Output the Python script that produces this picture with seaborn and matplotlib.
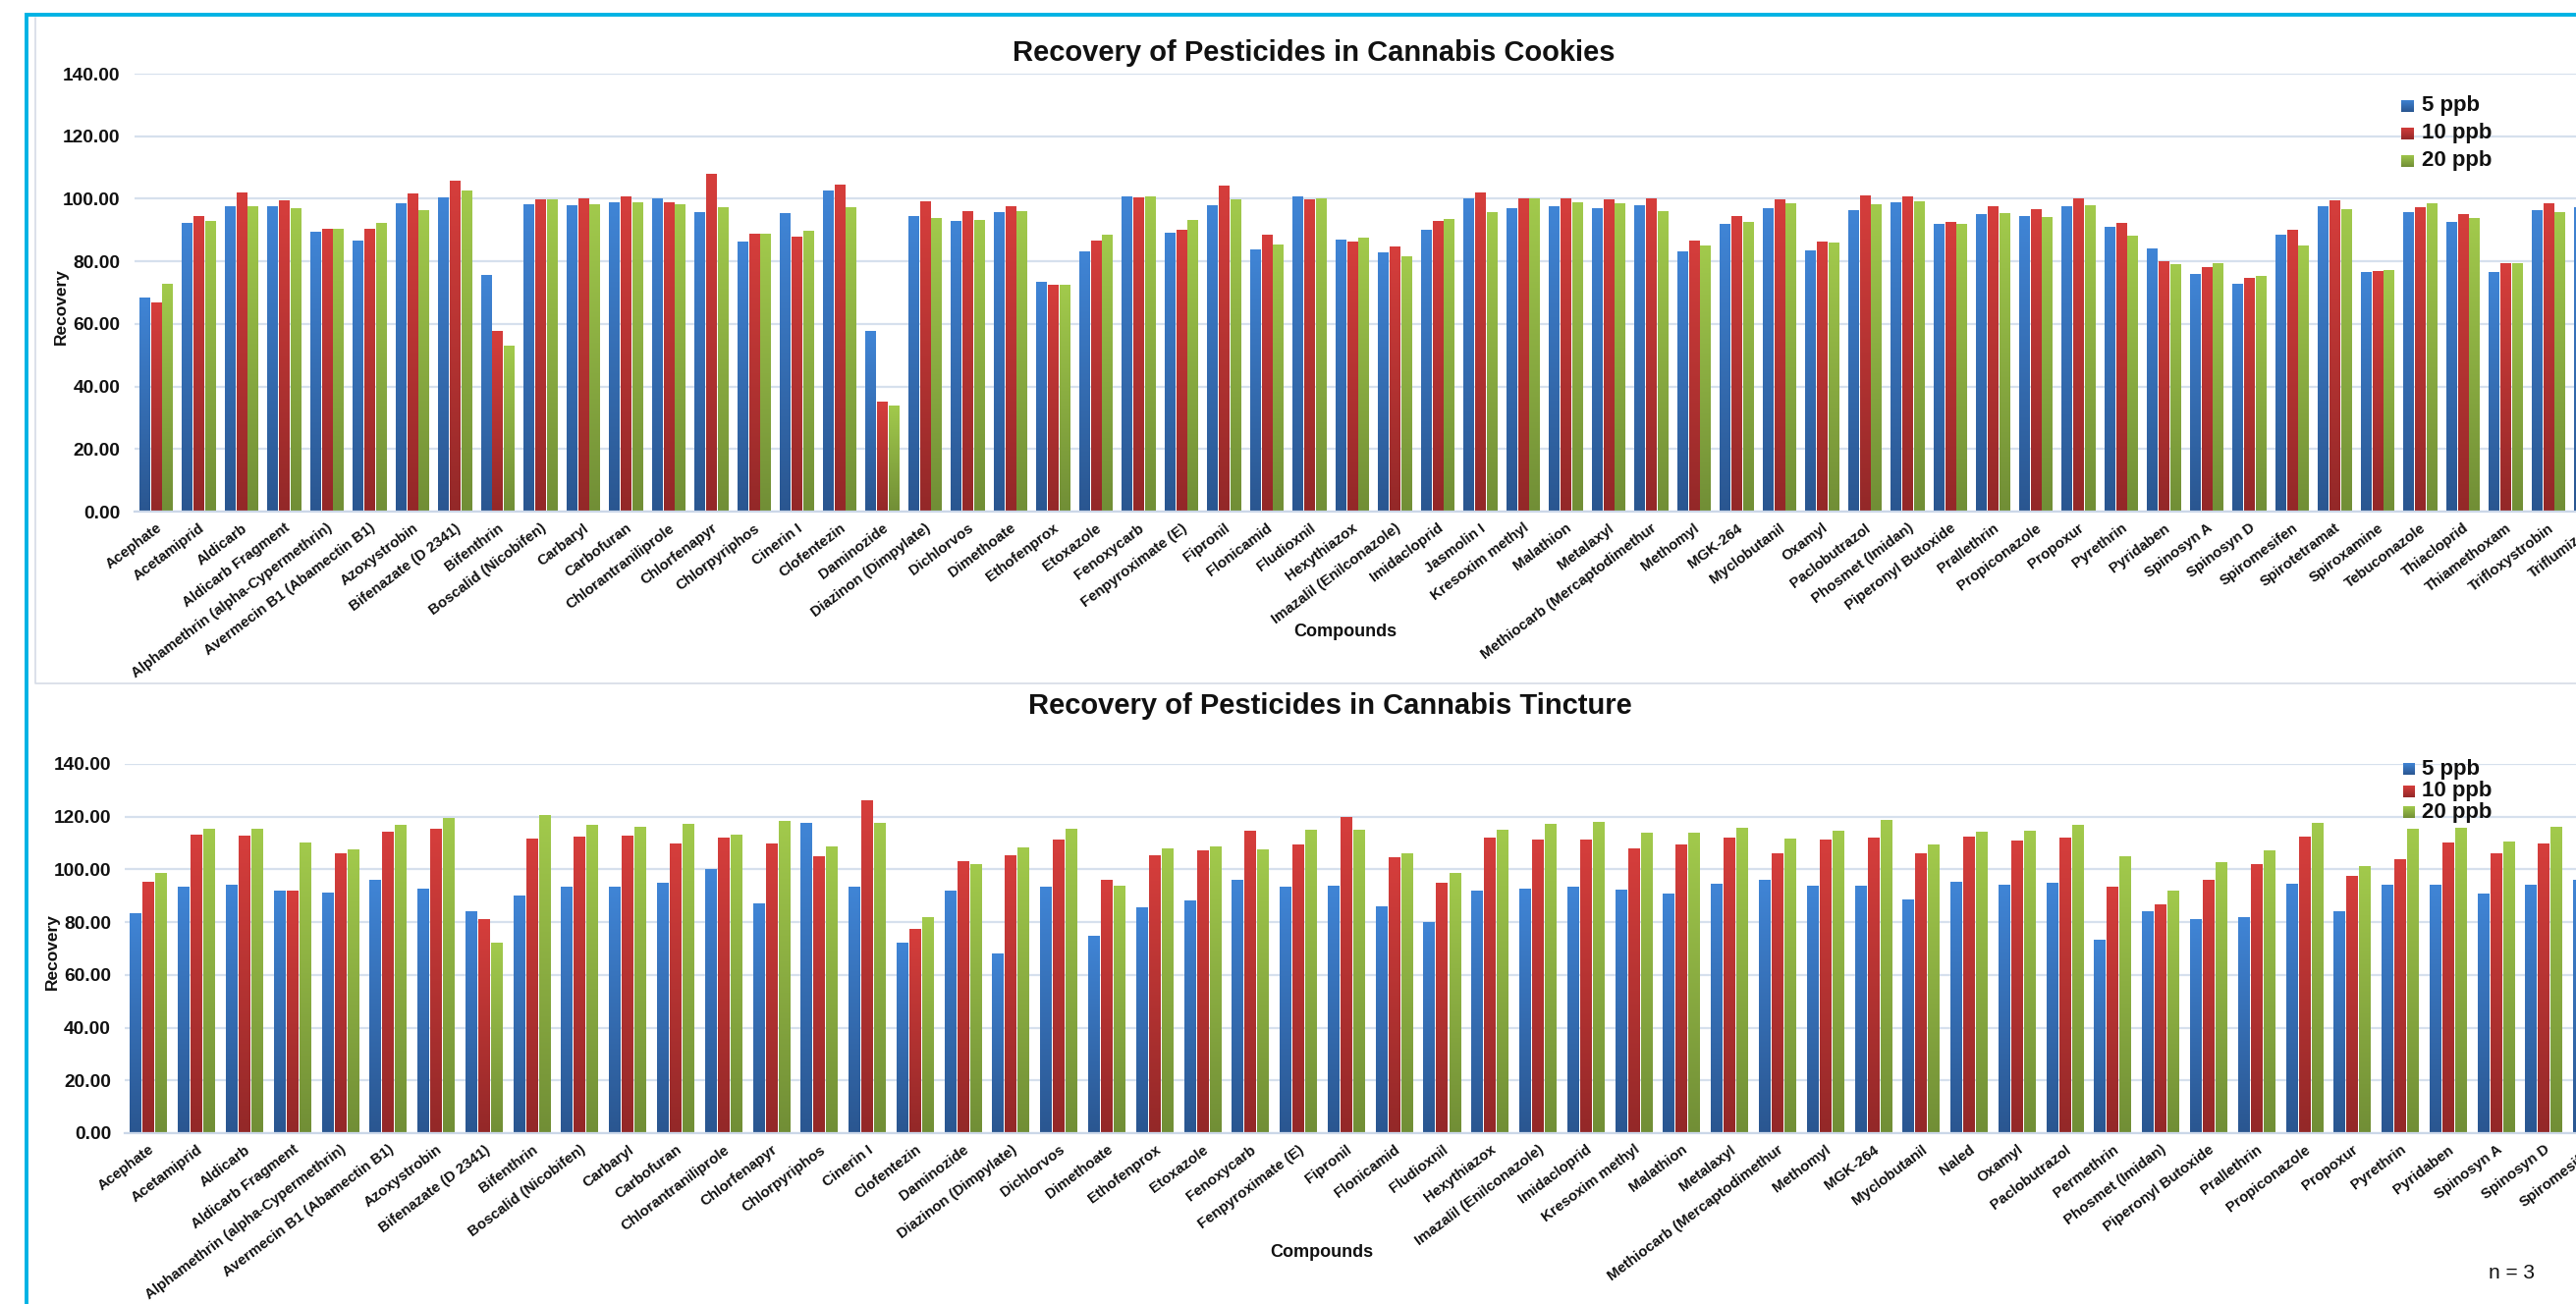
import numpy as np
import pandas as pd
import matplotlib
matplotlib.use("Agg")
import matplotlib.pyplot as plt
import seaborn as sns
from matplotlib.colors import LinearSegmentedColormap
from matplotlib.lines import Line2D

# ---------------------------------------------------------------- data
levels = ["5 ppb", "10 ppb", "20 ppb"]

cookie_compounds = [
    "Acephate", "Acetamiprid", "Aldicarb", "Aldicarb Fragment",
    "Alphamethrin (alpha-Cypermethrin)", "Avermecin B1 (Abamectin B1)",
    "Azoxystrobin", "Bifenazate (D 2341)", "Bifenthrin", "Boscalid (Nicobifen)",
    "Carbaryl", "Carbofuran", "Chlorantraniliprole", "Chlorfenapyr",
    "Chlorpyriphos", "Cinerin I", "Clofentezin", "Daminozide",
    "Diazinon (Dimpylate)", "Dichlorvos", "Dimethoate", "Ethofenprox",
    "Etoxazole", "Fenoxycarb", "Fenpyroximate (E)", "Fipronil", "Flonicamid",
    "Fludioxnil", "Hexythiazox", "Imazalil (Enilconazole)", "Imidacloprid",
    "Jasmolin I", "Kresoxim methyl", "Malathion", "Metalaxyl",
    "Methiocarb (Mercaptodimethur", "Methomyl", "MGK-264", "Myclobutanil",
    "Oxamyl", "Paclobutrazol", "Phosmet (Imidan)", "Piperonyl Butoxide",
    "Prallethrin", "Propiconazole", "Propoxur", "Pyrethrin", "Pyridaben",
    "Spinosyn A", "Spinosyn D", "Spiromesifen", "Spirotetramat", "Spiroxamine",
    "Tebuconazole", "Thiacloprid", "Thiamethoxam", "Trifloxystrobin",
    "Triflumizole",
]
cookie_5ppb = [
    68.3, 92.1, 97.4, 97.4, 89.3, 86.5, 98.5, 100.2, 75.5, 98.1,
    97.7, 98.7, 99.9, 95.6, 86.2, 95.2, 102.5, 57.5, 94.3, 92.8,
    95.6, 73.3, 83.0, 100.5, 89.0, 97.7, 83.6, 100.5, 86.8, 82.7,
    89.9, 99.9, 96.8, 97.4, 96.8, 97.7, 83.0, 91.8, 96.8, 83.4,
    96.2, 98.7, 91.8, 94.9, 94.3, 97.4, 90.8, 83.9, 75.8, 72.6,
    88.3, 97.4, 76.4, 95.6, 92.4, 76.4, 96.2, 97.0,
]
cookie_10ppb = [
    66.7, 94.3, 101.9, 99.4, 90.2, 90.2, 101.5, 105.6, 57.5, 99.7,
    99.9, 100.5, 98.7, 107.8, 88.8, 87.7, 104.3, 35.0, 99.0, 95.9,
    97.4, 72.3, 86.5, 100.2, 89.9, 104.0, 88.3, 99.7, 86.2, 84.5,
    92.8, 101.8, 99.9, 99.9, 99.7, 99.9, 86.5, 94.3, 99.7, 86.2,
    100.9, 100.5, 92.4, 97.4, 96.5, 99.9, 92.1, 79.9, 77.9, 74.5,
    89.9, 99.4, 76.8, 97.1, 94.9, 79.2, 98.4, 99.0,
]
cookie_20ppb = [
    72.6, 92.8, 97.4, 96.8, 90.2, 92.1, 96.2, 102.5, 52.9, 99.7,
    98.1, 98.7, 98.1, 97.1, 88.8, 89.6, 97.1, 33.7, 93.6, 93.1,
    95.9, 72.3, 88.3, 100.5, 93.1, 99.7, 85.2, 99.9, 87.4, 81.4,
    93.3, 95.6, 99.9, 98.7, 98.4, 95.9, 84.9, 92.4, 98.4, 85.8,
    98.1, 99.0, 91.8, 95.2, 93.9, 97.7, 88.0, 78.9, 79.2, 75.1,
    84.9, 96.5, 77.0, 98.4, 93.6, 79.2, 95.6, 97.0,
]

tincture_compounds = [
    "Acephate", "Acetamiprid", "Aldicarb", "Aldicarb Fragment",
    "Alphamethrin (alpha-Cypermethrin)", "Avermecin B1 (Abamectin B1)",
    "Azoxystrobin", "Bifenazate (D 2341)", "Bifenthrin", "Boscalid (Nicobifen)",
    "Carbaryl", "Carbofuran", "Chlorantraniliprole", "Chlorfenapyr",
    "Chlorpyriphos", "Cinerin I", "Clofentezin", "Daminozide",
    "Diazinon (Dimpylate)", "Dichlorvos", "Dimethoate", "Ethofenprox",
    "Etoxazole", "Fenoxycarb", "Fenpyroximate (E)", "Fipronil", "Flonicamid",
    "Fludioxnil", "Hexythiazox", "Imazalil (Enilconazole)", "Imidacloprid",
    "Kresoxim methyl", "Malathion", "Metalaxyl", "Methiocarb (Mercaptodimethur",
    "Methomyl", "MGK-264", "Myclobutanil", "Naled", "Oxamyl", "Paclobutrazol",
    "Permethrin", "Phosmet (Imidan)", "Piperonyl Butoxide", "Prallethrin",
    "Propiconazole", "Propoxur", "Pyrethrin", "Pyridaben", "Spinosyn A",
    "Spinosyn D", "Spiromesifen",
]
tincture_5ppb = [
    83.4, 93.4, 94.2, 91.9, 91.2, 95.7, 92.7, 83.8, 90.1, 93.4,
    93.4, 94.9, 100.1, 87.1, 117.6, 93.4, 71.9, 91.9, 67.8, 93.1,
    74.8, 85.3, 87.9, 95.7, 93.1, 93.8, 86.0, 80.0, 91.6, 92.7,
    93.4, 92.3, 90.8, 94.5, 96.0, 93.8, 93.8, 88.6, 95.3, 94.2,
    94.9, 73.0, 83.8, 80.8, 81.9, 94.5, 84.1, 94.2, 94.2, 90.5,
    94.2, 96.0,
]
tincture_10ppb = [
    95.2, 113.1, 112.8, 91.9, 106.1, 114.2, 115.4, 80.8, 111.6, 112.4,
    112.8, 109.8, 112.0, 109.8, 105.0, 126.1, 77.4, 103.1, 105.3, 111.3,
    96.0, 105.3, 107.2, 114.6, 109.4, 119.8, 104.6, 94.9, 112.0, 111.3,
    111.3, 107.9, 109.4, 112.0, 106.1, 111.3, 112.0, 106.1, 112.4, 110.9,
    112.0, 93.1, 86.4, 96.0, 102.0, 112.4, 97.5, 103.8, 110.2, 106.1,
    109.8, 110.0,
]
tincture_20ppb = [
    98.6, 115.4, 115.4, 110.2, 107.6, 116.9, 119.5, 72.2, 120.6, 116.9,
    116.1, 117.2, 113.1, 118.3, 108.7, 117.6, 81.9, 102.0, 108.3, 115.4,
    93.8, 107.9, 108.7, 107.6, 115.0, 115.0, 106.1, 98.3, 115.0, 117.2,
    118.0, 113.9, 113.9, 115.7, 111.6, 114.6, 118.7, 109.4, 114.2, 114.6,
    116.9, 105.0, 91.6, 102.7, 107.2, 117.6, 101.2, 115.4, 115.7, 110.5,
    116.1, 115.0,
]

y_ticks = [0, 20, 40, 60, 80, 100, 120, 140]

# ---------------------------------------------------------------- style
W, H, DPI = 2623, 1328, 100
mid = {"5 ppb": "#3670B8", "10 ppb": "#BD3434", "20 ppb": "#8DB043"}
light = {"5 ppb": "#4085D6", "10 ppb": "#D63E3C", "20 ppb": "#A2CA4C"}
dark = {"5 ppb": "#2A5690", "10 ppb": "#932828", "20 ppb": "#718E36"}
GRID = "#D6E0ED"
CYAN = "#00B2E4"
INK = "#111111"

sns.set_theme(style="white")
plt.rcParams["font.family"] = ["Liberation Sans", "DejaVu Sans"]

fig = plt.figure(figsize=(W / DPI, H / DPI), dpi=DPI)
fig.patch.set_facecolor("white")


def px_rect(left, top, right, bottom):
    return [left / W, 1 - bottom / H, (right - left) / W, (bottom - top) / H]


def fx(x):
    return x / W


def fy(y):
    return 1 - y / H


grad = np.linspace(0, 1, 256).reshape(-1, 1)
cmaps = {l: LinearSegmentedColormap.from_list(l, [dark[l], light[l]]) for l in levels}


def draw_panel(ax, compounds, s5, s10, s20, px_per_cat, tick_pad):
    df = pd.DataFrame({
        "Compound": compounds * 3,
        "Level": [l for l in levels for _ in compounds],
        "Recovery": s5 + s10 + s20,
    })
    sns.barplot(data=df, x="Compound", y="Recovery", hue="Level",
                order=compounds, hue_order=levels, palette=mid,
                width=0.8, saturation=1, errorbar=None, legend=False,
                linewidth=0, ax=ax)
    # shaded fill for every bar (darker base, lighter top), with a hairline
    # white gap between neighbouring bars
    gap = 0.55 / px_per_cat
    for level, cont in zip(levels, ax.containers):
        for p in cont.patches:
            x0, w, h = p.get_x(), p.get_width(), p.get_height()
            ax.imshow(grad, cmap=cmaps[level],
                      extent=(x0 + gap, x0 + w - gap, 0, h),
                      origin="lower", aspect="auto", interpolation="bilinear",
                      zorder=2)
            p.set_visible(False)
    n = len(compounds)
    ax.set_xlim(-0.5, n - 0.5)
    ax.set_ylim(0, 140)
    ax.set_yticks(y_ticks)
    ax.set_yticklabels([f"{v:.2f}" for v in y_ticks], fontweight="bold",
                       fontsize=13.8, color=INK)
    ax.set_xticks(range(n))
    ax.set_xticklabels(compounds, rotation=37, ha="right",
                       rotation_mode="anchor", fontweight="bold",
                       fontsize=10.8, color=INK)
    ax.tick_params(axis="y", length=0, pad=tick_pad)
    ax.tick_params(axis="x", length=0, pad=7)
    ax.yaxis.grid(True, color=GRID, lw=1.6)
    ax.set_axisbelow(True)
    for side in ("top", "right", "left"):
        ax.spines[side].set_visible(False)
    ax.spines["bottom"].set_color("#CBD7E8")
    ax.spines["bottom"].set_linewidth(1.6)
    ax.set_xlabel("")
    ax.set_ylabel("")
    ax.set_facecolor("none")


def draw_legend(x_box, x_text, ys, size, fontsize):
    for level, yc in zip(levels, ys):
        lax = fig.add_axes(px_rect(x_box, yc - size / 2, x_box + size, yc + size / 2))
        lax.imshow(grad, cmap=cmaps[level], origin="lower", aspect="auto",
                   interpolation="bilinear")
        lax.set_axis_off()
        fig.text(fx(x_text), fy(yc), level, ha="left", va="center",
                 fontsize=fontsize, fontweight="bold", color=INK)


# ---------------------------------------------------------------- cookies
TOP_PITCH = 43.5
ax_top = fig.add_axes(px_rect(137, 75, 137 + 58 * TOP_PITCH, 521))
draw_panel(ax_top, cookie_compounds, cookie_5ppb, cookie_10ppb, cookie_20ppb,
           TOP_PITCH, 10.5)
fig.text(fx(1338), fy(54), "Recovery of Pesticides in Cannabis Cookies",
         ha="center", va="center", fontsize=21, fontweight="bold", color=INK)
fig.text(fx(1370), fy(643), "Compounds", ha="center", va="center",
         fontsize=13, fontweight="bold", color=INK)
fig.text(fx(62), fy(312), "Recovery", ha="center", va="center",
         rotation=90, fontsize=12.5, fontweight="bold", color=INK)
draw_legend(2445, 2466, [108, 136, 164], 13, 16)

# ---------------------------------------------------------------- tincture
BOT_PITCH = 48.78
ax_bot = fig.add_axes(px_rect(127, 778, 127 + 52 * BOT_PITCH, 1154))
draw_panel(ax_bot, tincture_compounds, tincture_5ppb, tincture_10ppb,
           tincture_20ppb, BOT_PITCH, 10)
fig.text(fx(1354), fy(719), "Recovery of Pesticides in Cannabis Tincture",
         ha="center", va="center", fontsize=21, fontweight="bold", color=INK)
fig.text(fx(1346), fy(1275), "Compounds", ha="center", va="center",
         fontsize=13, fontweight="bold", color=INK)
fig.text(fx(53), fy(969), "Recovery", ha="center", va="center",
         rotation=90, fontsize=12.5, fontweight="bold", color=INK)
draw_legend(2447, 2466, [783, 806, 827], 12, 16)
fig.text(fx(2558), fy(1296), "n = 3", ha="center", va="center",
         fontsize=15, color=INK)

# ---------------------------------------------------------------- frames
fig.add_artist(Line2D([fx(36), fx(36), fx(W)], [fy(18), fy(696), fy(696)],
                      transform=fig.transFigure, color="#D5DCE6", lw=1.2))
fig.add_artist(Line2D([fx(27), fx(27), fx(W)], [fy(H), fy(15), fy(15)],
                      transform=fig.transFigure, color=CYAN, lw=2.8,
                      solid_joinstyle="miter"))

fig.savefig("out.png", dpi=DPI, facecolor="white")
